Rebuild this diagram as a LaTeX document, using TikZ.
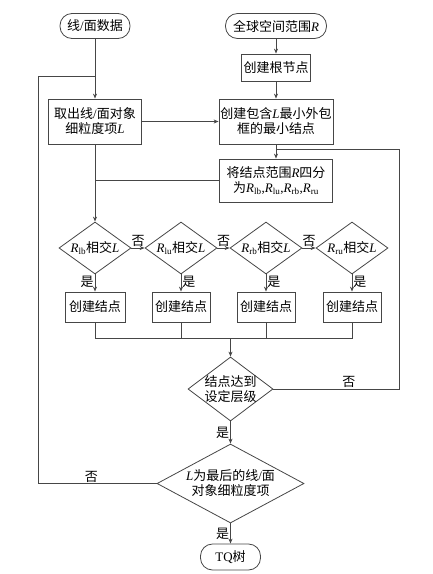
\documentclass[tikz,border=0pt]{standalone}
\usepackage{fontspec}
\setmainfont{Liberation Serif}
\newfontfamily\cjk{Noto Sans CJK SC}
\usetikzlibrary{arrows.meta,shapes.geometric}
\newcommand\vi[1]{{\rmfamily\itshape #1}}
\newcommand\vs[2]{{\rmfamily\itshape #1}\textsubscript{\rmfamily\upshape #2}}
\newcommand\slsh{{\rmfamily /}}
\newcommand\cma{{\rmfamily ,}}
\definecolor{lc}{RGB}{70,70,70}
\begin{document}
\begin{tikzpicture}[x=1pt,y=-1pt,
  font=\cjk\fontsize{13}{15}\selectfont,
  term/.style={draw=lc,line width=0.8pt,rounded corners=12pt,minimum height=25pt,inner sep=0pt},
  proc/.style={draw=lc,line width=0.8pt,align=center,inner sep=0pt},
  dia/.style={draw=lc,line width=0.8pt,diamond,inner sep=0pt},
  dtxt/.style={align=center,inner sep=0pt},
  lab/.style={inner sep=1pt},
  ln/.style={draw=lc,line width=0.8pt},
  arr/.style={ln,-{Stealth[length=5pt,width=4pt]}}]
\useasboundingbox (0,0) rectangle (432,574);
% terminals
\node[term,minimum width=70pt] (t1) at (95,26) {线\slsh 面数据};
\node[term,minimum width=101pt] (t2) at (276,26) {全球空间范围\vi{R}};
% process boxes
\node[proc,minimum width=69pt,minimum height=27pt] (b1) at (276,67.5) {创建根节点};
\node[proc,minimum width=93pt,minimum height=45pt] (b2) at (95,121.5) {取出线\slsh 面对象\\细粒度项\vi{L}};
\node[proc,minimum width=114pt,minimum height=45pt] (b3) at (276,121.5) {创建包含\vi{L}最小外包\\框的最小结点};
\node[proc,minimum width=113pt,minimum height=43pt] (b4) at (276,180.5) {将结点范围\vi{R}四分\\为\vs{R}{lb}\cma\vs{R}{lu}\cma\vs{R}{rb}\cma\vs{R}{ru}};
% diamonds row
\node[dia,minimum width=72pt,minimum height=52pt] (d1) at (95,248) {};
\node[dtxt] (d1t) at (d1) {\vs{R}{lb}相交\vi{L}};
\node[dia,minimum width=72pt,minimum height=52pt] (d2) at (181,248) {};
\node[dtxt] (d2t) at (d2) {\vs{R}{lu}相交\vi{L}};
\node[dia,minimum width=72pt,minimum height=52pt] (d3) at (266,248) {};
\node[dtxt] (d3t) at (d3) {\vs{R}{rb}相交\vi{L}};
\node[dia,minimum width=72pt,minimum height=52pt] (d4) at (352,248) {};
\node[dtxt] (d4t) at (d4) {\vs{R}{ru}相交\vi{L}};
% create nodes
\node[proc,minimum width=60pt,minimum height=30pt] (c1) at (95,307) {创建结点};
\node[proc,minimum width=58pt,minimum height=30pt] (c2) at (181,307) {创建结点};
\node[proc,minimum width=58pt,minimum height=30pt] (c3) at (266,307) {创建结点};
\node[proc,minimum width=58pt,minimum height=30pt] (c4) at (352,307) {创建结点};
% lower diamonds
\node[dia,minimum width=85pt,minimum height=64pt] (d5) at (230.5,389) {};
\node[dtxt] (d5t) at (d5) {结点达到\\设定层级};
\node[dia,minimum width=147pt,minimum height=79pt] (d6) at (230.5,483.5) {};
\node[dtxt] (d6t) at (d6) {\vi{L}为最后的线\slsh 面\\对象细粒度项};
\node[term,minimum width=60pt,minimum height=26pt] (t3) at (230.5,557) {{\rmfamily TQ}树};
% coordinates
\coordinate (jn) at (230.5,338);
\coordinate (rr) at (399,149);
\coordinate (ll) at (38,76);
% connectors
\draw[arr] (t1) -- (b2);
\draw[arr] (t2) -- (b1);
\draw[arr] (b1) -- (b3);
\draw[arr] (b3) -- (b4);
\draw[arr] (b2) -- (b3);
\draw[arr] (b2) -- (d1);
\draw[ln] (b4.west) -- (b4.west -| b2.south);
\draw[arr] (d1) -- node[lab,left,pos=0.45] {是} (c1);
\draw[arr] (d2) -- node[lab,right,pos=0.45] {是} (c2);
\draw[arr] (d3) -- node[lab,right,pos=0.45] {是} (c3);
\draw[arr] (d4) -- node[lab,right,pos=0.45] {是} (c4);
\draw[arr] (d1.east) -- node[lab,above] {否} (d2.west);
\draw[arr] (d2.east) -- node[lab,above] {否} (d3.west);
\draw[arr] (d3.east) -- node[lab,above] {否} (d4.west);
\draw[ln] (c1.south) -- (c1.south |- jn) -- (c4.south |- jn) -- (c4.south);
\draw[ln] (c2.south) -- (c2.south |- jn);
\draw[ln] (c3.south) -- (c3.south |- jn);
\draw[arr] (jn) -- (d5.north);
\draw[arr] (d5) -- node[lab,left] {是} (d6);
\draw[arr] (d6) -- node[lab,left] {是} (t3);
\draw[ln] (d5.east) -- node[lab,above,pos=0.6] {否} (d5.east -| rr) -- (rr) -- (rr -| b3.south);
\draw[ln] (d6.west) -- node[lab,above,pos=0.55] {否} (d6.west -| ll) -- (ll) -- (ll -| b2.north);
\end{tikzpicture}
\end{document}
